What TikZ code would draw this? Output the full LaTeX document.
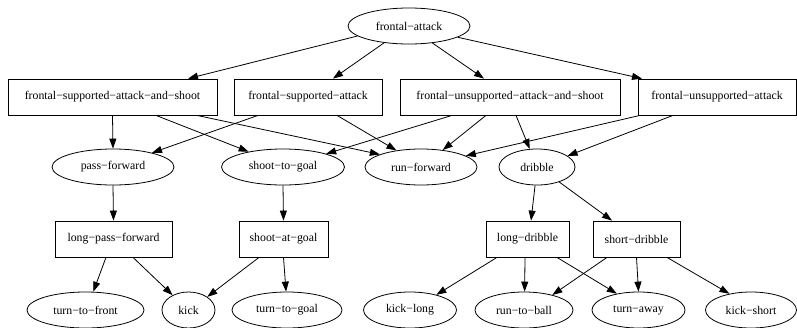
\documentclass[tikz,border=0pt]{standalone}
\usepackage{fontspec}
\setmainfont{Liberation Serif}
\usetikzlibrary{shapes.geometric,arrows.meta}
\tikzset{
	act/.style={ellipse,draw,inner sep=0pt,minimum height=36pt},
	task/.style={rectangle,draw,inner sep=0pt,minimum height=36pt},
	edge/.style={-{Triangle[length=10pt,width=7pt]}}
}
\begin{document}
\begin{tikzpicture}[x=1pt,y=-1pt,line width=0.8pt,font=\fontsize{11.8}{13}\selectfont]
\useasboundingbox (0,0) rectangle (797,327);

	\node[act,minimum width=122pt](fattack) at (409,26){frontal−attack};

	\node[task,minimum width=209pt](fsupshoot) at (112.5,97){frontal−supported−attack−and−shoot};
	\node[task,minimum width=148pt](fsup) at (308,97){frontal−supported−attack};
	\node[task,minimum width=220pt](funshoot) at (510,97){frontal−unsupported−attack−and−shoot};
	\node[task,minimum width=158pt](fun) at (717,97){frontal−unsupported−attack};
	\draw[edge](fattack.-169)--([xshift=75.5pt]fsupshoot.north);
	\draw[edge](fattack.214)--([xshift=25pt]fsup.north);
	\draw[edge](fattack.-36)--([xshift=-26pt]funshoot.north);
	\draw[edge](fattack.-13)--([xshift=-75pt]fun.north);

	\node[act,minimum width=122pt](passfwd) at (113,167){pass−forward};
	\node[act,minimum width=123pt](shootgoal) at (283,167){shoot−to−goal};
	\node[act,minimum width=112pt](runfwd) at (421,167){run−forward};
	\node[act,minimum width=76pt](dribble) at (537,167){dribble};
	\draw[edge](fsupshoot.south)--(passfwd.north);
	\draw[edge]([xshift=43.5pt]fsupshoot.south)--(shootgoal.156);
	\draw[edge]([xshift=84.5pt]fsupshoot.south)--(runfwd.163);
	\draw[edge]([xshift=-50pt]fsup.south)--(passfwd.20);
	\draw[edge]([xshift=29pt]fsup.south)--(runfwd.146);
	\draw[edge]([xshift=-58pt]funshoot.south)--(shootgoal.17);
	\draw[edge]([xshift=-24pt]funshoot.south)--(runfwd.38);
	\draw[edge]([xshift=6pt]funshoot.south)--(dribble.112);
	\draw[edge]([xshift=-77pt]fun.south)--(runfwd.14);
	\draw[edge]([xshift=-44pt]fun.south)--(dribble.20);

	\node[task,minimum width=117pt](longpass) at (113.5,239){long−pass−forward};
	\node[task,minimum width=89pt](shootat) at (283.5,239){shoot−at−goal};
	\node[task,minimum width=83pt](longdrib) at (527.5,239){long−dribble};
	\node[task,minimum width=87pt](shortdrib) at (636.5,239){short−dribble};
	\draw[edge](passfwd.south)--(longpass.north);
	\draw[edge](shootgoal.south)--(shootat.north);
	\draw[edge](dribble.-96)--([xshift=3.5pt]longdrib.north);
	\draw[edge](dribble.-34)--([xshift=-24.5pt]shortdrib.north);

	\node[act,minimum width=117pt](turnfront) at (85.5,310){turn−to−front};
	\node[act,minimum width=53pt](kick) at (188.5,310){kick};
	\node[act,minimum width=110pt](turngoal) at (287,310){turn−to−goal};
	\node[act,minimum width=93pt](kicklong) at (410,310){kick−long};
	\node[act,minimum width=98pt](runball) at (524,310){run−to−ball};
	\node[act,minimum width=93pt](turnaway) at (638.5,310){turn−away};
	\node[act,minimum width=91pt](kickshort) at (751,310){kick−short};
	\draw[edge]([xshift=-7.5pt]longpass.south)--(turnfront.67);
	\draw[edge]([xshift=19.5pt]longpass.south)--(kick.137);
	\draw[edge]([xshift=-24.5pt]shootat.south)--(kick.35);
	\draw[edge](shootat.south)--(turngoal.93);
	\draw[edge]([xshift=-30.5pt]longdrib.south)--(kicklong.30);
	\draw[edge]([xshift=-2.5pt]longdrib.south)--(runball.88);
	\draw[edge]([xshift=29.5pt]longdrib.south)--(turnaway.143);
	\draw[edge]([xshift=-29.5pt]shortdrib.south)--(runball.28);
	\draw[edge](shortdrib.south)--(turnaway.90);
	\draw[edge]([xshift=30.5pt]shortdrib.south)--(kickshort.143);
\end{tikzpicture}
\end{document}
